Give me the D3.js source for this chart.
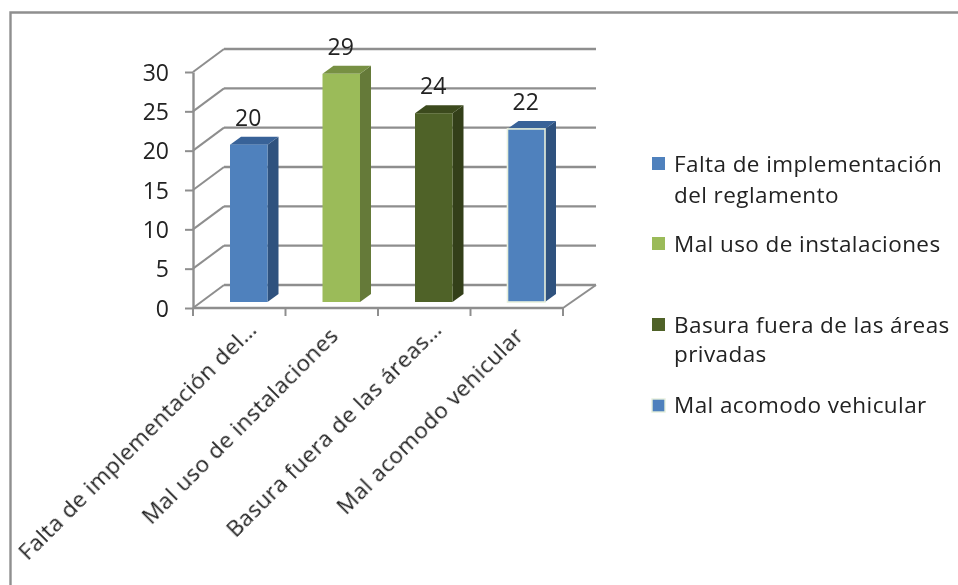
<!DOCTYPE html>
<html><head><meta charset="utf-8">
<script src="https://cdn.jsdelivr.net/npm/d3@7"></script>
<style>
html,body{margin:0;padding:0;background:#fff;overflow:hidden}
svg{display:block;font-family:"Open Sans",Lato,sans-serif}
svg text{filter:blur(.35px)}
.wide{letter-spacing:.42px}
</style></head><body>
<div id="chart"></div>
<script>
const categories=["Falta de implementación del…","Mal uso de instalaciones","Basura fuera de las áreas…","Mal acomodo vehicular"];
const values=[20,29,24,22];
const legendLines=[["Falta de implementación","del reglamento"],["Mal uso de instalaciones"],["Basura fuera de las áreas","privadas"],["Mal acomodo vehicular"]];
const frontColors=["#4f81bd","#9bbb59","#4f6228","#4f81bd"];
const sideColors=["#2f527e","#657a39","#333f19","#2f527e"];
const topColors=["#386298","#779043","#3c4a1d","#386298"];
const strokeColors=["none","none","none","#e6efdc"];
const tickValues=[0,5,10,15,20,25,30];

const W=958,H=585,grid="#8e8e8e",ink="#222";
const svg=d3.select("#chart").append("svg").attr("width",W).attr("height",H);

svg.append("path").attr("d",`M10.5,${H}V12.5H${W}`).attr("fill","none").attr("stroke","#8f8f8f").attr("stroke-width",2.4);

const x=d3.scaleBand().domain(categories).range([193,563]);
const y=d3.scaleLinear().domain([0,30]).range([308,72]);
const depthX=31,depthY=-23;
const barDepthX=11,barDepthY=-8,barShiftX=9.5,barBase=-6,barW=37.5;

const g=svg.append("g");
g.selectAll(".back").data(tickValues).join("line")
 .attr("x1",d=>193+depthX).attr("x2",563+depthX+2)
 .attr("y1",d=>y(d)+depthY).attr("y2",d=>y(d)+depthY)
 .attr("stroke",grid).attr("stroke-width",2.4);
g.selectAll(".diag").data(tickValues).join("line")
 .attr("x1",193).attr("y1",d=>y(d)).attr("x2",193+depthX).attr("y2",d=>y(d)+depthY)
 .attr("stroke",grid).attr("stroke-width",2);
g.append("line").attr("x1",563).attr("y1",y(0)).attr("x2",563+depthX+2).attr("y2",y(0)+depthY)
 .attr("stroke",grid).attr("stroke-width",2);

const yAxis=d3.axisLeft(y).tickValues(tickValues).tickSize(8).tickPadding(16).tickSizeOuter(0);
const ya=svg.append("g").attr("transform","translate(193,0)").call(yAxis);
ya.select(".domain").attr("stroke",grid).attr("stroke-width",2.4);
ya.selectAll("line").attr("stroke",grid).attr("stroke-width",2);
ya.selectAll("text").attr("font-size",23).attr("fill",ink).attr("font-family","Open Sans").attr("dy","0.36em");

const xa=svg.append("g").attr("transform",`translate(0,${y(0)})`);
xa.append("line").attr("x1",193).attr("x2",563).attr("stroke",grid).attr("stroke-width",2.4);
const edges=categories.map(c=>x(c)).concat([x.range()[1]]);
xa.selectAll(".t").data(edges).join("line").attr("x1",d=>d).attr("x2",d=>d).attr("y1",0).attr("y2",8)
 .attr("stroke",grid).attr("stroke-width",2);
svg.append("g").selectAll("text").data(categories).join("text")
 .attr("class","wide").attr("text-anchor","end").attr("font-size",22.5).attr("fill",ink)
 .attr("transform",d=>`translate(${x(d)+x.bandwidth()/2+(d.endsWith("…")?19:8)},${d.endsWith("…")?331:337}) rotate(-45)`)
 .text(d=>d);

const cx=c=>x(c)+x.bandwidth()/2+barShiftX;
const bars=svg.append("g").selectAll("g").data(categories).join("g");
const base=y(0)+barBase;
bars.append("path").attr("fill",(d,i)=>sideColors[i])
 .attr("d",(d,i)=>{const r=cx(d)+barW/2,t=y(values[i])+barBase;
  return `M${r},${t}l${barDepthX},${barDepthY}V${base+barDepthY}l${-barDepthX},${-barDepthY}Z`;});
bars.append("path").attr("fill",(d,i)=>topColors[i])
 .attr("d",(d,i)=>{const l=cx(d)-barW/2,t=y(values[i])+barBase;
  return `M${l},${t}l${barDepthX},${barDepthY}h${barW}l${-barDepthX},${-barDepthY}Z`;});
bars.append("rect").attr("x",d=>cx(d)-barW/2).attr("width",barW)
 .attr("y",(d,i)=>y(values[i])+barBase).attr("height",(d,i)=>base-(y(values[i])+barBase))
 .attr("fill",(d,i)=>frontColors[i]).attr("stroke",(d,i)=>strokeColors[i]).attr("stroke-width",1.6);
bars.append("text").attr("x",d=>cx(d)-.5).attr("y",(d,i)=>y(values[i])+barBase-19)
 .attr("text-anchor","middle").attr("font-size",23).attr("fill",ink).text((d,i)=>values[i]);

const legendSwatchY=[157,237,318,399];
const legendBaselines=[[172,203],[252],[333,362],[413]];
const lg=svg.append("g").selectAll("g").data(legendLines).join("g");
lg.append("rect").attr("x",652).attr("y",(d,i)=>legendSwatchY[i]).attr("width",13).attr("height",13)
 .attr("fill",(d,i)=>frontColors[i]).attr("stroke",(d,i)=>strokeColors[i]).attr("stroke-width",1.4);
lg.each(function(lines,i){
 d3.select(this).selectAll("text").data(lines).join("text")
  .attr("class","wide").attr("x",674).attr("y",(d,j)=>legendBaselines[i][j])
  .attr("font-size",22.5).attr("fill",ink).text(d=>d);
});
</script></body></html>
